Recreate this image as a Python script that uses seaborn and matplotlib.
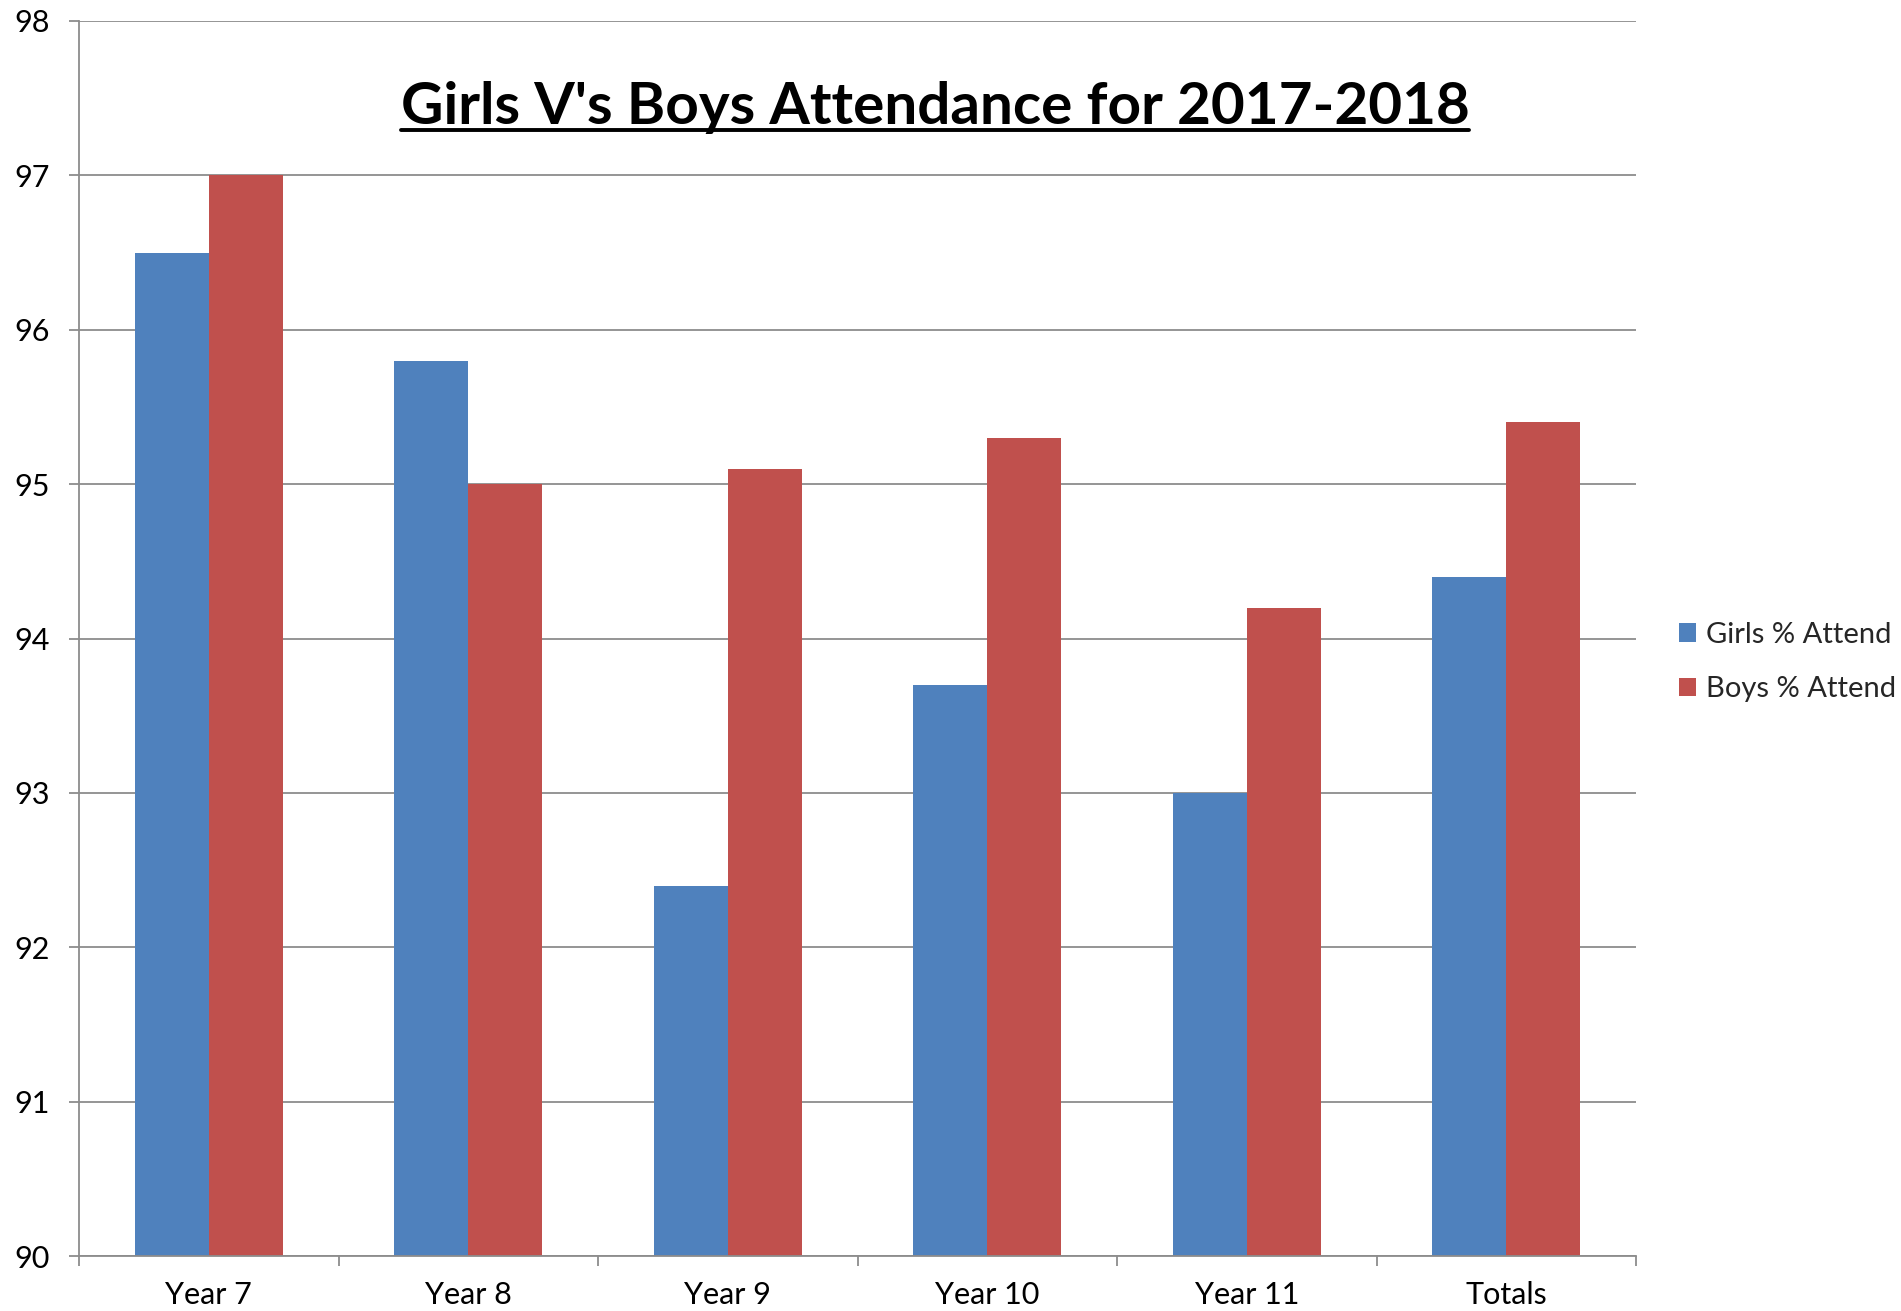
import numpy as np
import pandas as pd
import seaborn as sns
import matplotlib.pyplot as plt
from matplotlib.lines import Line2D
from matplotlib.ticker import FixedLocator

# Data
years = ["Year 7", "Year 8", "Year 9", "Year 10", "Year 11", "Totals"]
girls = [96.5, 95.8, 92.4, 93.7, 93.0, 94.4]
boys = [97.0, 95.0, 95.1, 95.3, 94.2, 95.4]
series = ["Girls % Attend", "Boys % Attend"]
colors = ["#4F81BD", "#C0504D"]

df = pd.DataFrame({"Year": years * 2,
                   "Attend": girls + boys,
                   "Series": [series[0]] * len(years) + [series[1]] * len(years)})

sns.set_theme(style="white")
plt.rcParams["font.family"] = ["Lato", "DejaVu Sans"]
grid_col = "#8c8c8c"

fig = plt.figure(figsize=(19.01, 13.11), dpi=100)
W, H = 1901, 1311
ax = fig.add_axes([79 / W, (H - 1256) / H, (1636 - 79) / W, (1256 - 21) / H])

sns.barplot(data=df, x="Year", y="Attend", hue="Series", order=years,
            hue_order=series, palette=colors, width=0.57, gap=0,
            saturation=1, linewidth=0, ax=ax)

ax.set_ylim(90, 98)
ax.set_xlim(-0.5, len(years) - 0.5)
ax.set_yticks(range(90, 99))
ax.yaxis.grid(True, color=grid_col, linewidth=1.3)
ax.set_axisbelow(True)
ax.set_xlabel("")
ax.set_ylabel("")
for s in ["top", "right"]:
    ax.spines[s].set_visible(False)
for s in ["left", "bottom"]:
    ax.spines[s].set_color(grid_col)
    ax.spines[s].set_linewidth(1.3)

ax.tick_params(axis="y", length=7, width=1.3, color=grid_col, pad=14,
               labelsize=22, labelcolor="black", left=True)
ax.tick_params(axis="x", which="major", length=0, pad=18, labelsize=22,
               labelcolor="black")
ax.xaxis.set_minor_locator(FixedLocator(np.arange(-0.5, len(years), 1.0)))
ax.tick_params(axis="x", which="minor", length=7, width=1.3,
               color=grid_col, bottom=True)

leg = ax.legend(loc="center left", bbox_to_anchor=(1.0105, 0.481), frameon=False,
                fontsize=21, handlelength=0.6, handleheight=0.6,
                handletextpad=0.35, labelspacing=0.98)

title = fig.text(935 / W, 1 - 124 / H, "Girls V's Boys Attendance for 2017-2018",
                 ha="center", va="baseline", fontsize=42, fontweight="bold",
                 color="black")

# underline the title
fig.canvas.draw()
bb = title.get_window_extent().transformed(fig.transFigure.inverted())
uy = 1 - 130 / H
fig.add_artist(Line2D([bb.x0, bb.x1], [uy, uy], transform=fig.transFigure,
                      color="black", linewidth=2.8))

fig.savefig("out.png", dpi=100)
